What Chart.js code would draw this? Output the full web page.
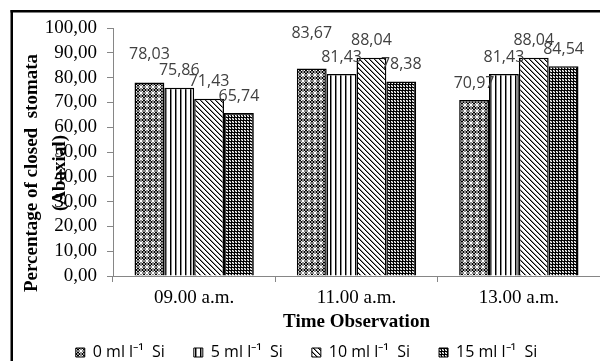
<!DOCTYPE html>
<html><head><meta charset="utf-8">
<script src="https://cdn.jsdelivr.net/npm/chart.js@4.4.1/dist/chart.umd.min.js"></script>
<style>html,body{margin:0;padding:0;background:#fff}#wrap{width:600px;height:361px;position:relative}</style>
</head><body><div id="wrap"><canvas id="c" width="600" height="361"></canvas></div>
<script>
const categories = ['09.00 a.m.', '11.00 a.m.', '13.00 a.m.'];
const seriesNames = ['0 ml l\u207B\u00B9  Si', '5 ml l\u207B\u00B9  Si', '10 ml l\u207B\u00B9  Si', '15 ml l\u207B\u00B9  Si'];
const si0 = [78.03, 83.67, 70.97];
const si5 = [75.86, 81.43, 81.43];
const si10 = [71.43, 88.04, 88.04];
const si15 = [65.74, 78.38, 84.54];
const yMin = 0, yMax = 100, yStep = 10;
const yTitleLines = ['Percentage of closed  stomata', '(Abaxial)'];
const xTitle = 'Time Observation';

function makePattern(rows) {
  const h = rows.length, w = rows[0].length;
  const c = document.createElement('canvas');
  c.width = w; c.height = h;
  const g = c.getContext('2d');
  for (let y = 0; y < h; y++) for (let x = 0; x < w; x++) {
    const ch = rows[y][x];
    g.fillStyle = ch === '#' ? '#000' : ch === 'g' ? '#8a8a8a' : '#fff';
    g.fillRect(x, y, 1, 1);
  }
  return c.getContext('2d').createPattern(c, 'repeat');
}
const pat0 = makePattern(['g#gg#g', '#.gg.#', 'gg..gg', 'gg..gg', '#.gg.#', 'g#gg#g']);
const pat1 = makePattern(['#g...']);
const pat2 = makePattern(['#g...', '.#g..', '..#g.', '...#g', 'g...#']);
const pat3 = makePattern(['###', '#.g', '#g.']);

const fmt = v => v.toFixed(2).replace('.', ',');

const frame = {
  id: 'frame',
  beforeDraw(chart) {
    const c = chart.ctx;
    c.save();
    c.fillStyle = '#fff'; c.fillRect(0, 0, chart.width, chart.height);
    c.fillStyle = '#000';
    c.fillRect(10.5, 10, 590, 2.5);
    c.fillRect(10.5, 10, 2.5, 351);
    c.restore();
  }
};

const valueLabels = {
  id: 'valueLabels',
  afterDatasetsDraw(chart, args, opts) {
    const c = chart.ctx;
    c.save();
    c.font = '16px "Open Sans", sans-serif';
    c.fillStyle = '#404040';
    c.textAlign = 'center';
    c.textBaseline = 'middle';
    chart.data.datasets.forEach((ds, di) => {
      const meta = chart.getDatasetMeta(di);
      meta.data.forEach((el, i) => {
        const extra = (opts.lift && opts.lift[di + '-' + i]) || 0;
        c.fillText(fmt(ds.data[i]), el.x, el.y - opts.offset - extra);
      });
    });
    c.restore();
  }
};

const yTitle = {
  id: 'yTitle',
  afterDraw(chart) {
    const c = chart.ctx, a = chart.chartArea;
    c.save();
    c.font = 'bold 19px "Liberation Serif", "Times New Roman", serif';
    c.fillStyle = '#000';
    c.textAlign = 'center';
    c.textBaseline = 'middle';
    const cy = (a.top + a.bottom) / 2 + 21;
    c.translate(32, cy); c.rotate(-Math.PI / 2);
    c.fillText(yTitleLines[0], 0, 0);
    c.fillText(yTitleLines[1], 0, 28);
    c.restore();
  }
};

const datasets = [si0, si5, si10, si15].map((d, i) => ({
  label: seriesNames[i],
  data: d,
  backgroundColor: [pat0, pat1, pat2, pat3][i],
  borderColor: '#000',
  borderWidth: 1.5,
  borderSkipped: 'bottom',
  categoryPercentage: 0.735,
  barPercentage: 1.0
}));

new Chart(document.getElementById('c'), {
  type: 'bar',
  data: {labels: categories, datasets},
  plugins: [frame, valueLabels, yTitle],
  options: {
    responsive: false,
    animation: false,
    devicePixelRatio: 1,
    layout: {padding: {left: 13, top: 28, right: 0, bottom: -9.5}},
    plugins: {
      tooltip: {enabled: false},
      valueLabels: {offset: 17, lift: {'0-0': 11, '0-1': 18}},
      legend: {
        position: 'bottom',
        labels: {
          font: {family: '"Open Sans", sans-serif', size: 16},
          color: '#000',
          boxWidth: 9, boxHeight: 9, padding: 29,
          generateLabels(chart) {
            return chart.data.datasets.map((ds, i) => ({
              text: ds.label, fillStyle: ds.backgroundColor, strokeStyle: '#000',
              lineWidth: 1, datasetIndex: i, hidden: false
            }));
          }
        }
      }
    },
    scales: {
      x: {
        grid: {display: true, drawOnChartArea: false, tickLength: 6, color: '#868686', offset: true},
        border: {color: '#868686', width: 1},
        ticks: {font: {family: '"Liberation Serif", serif', size: 19}, color: '#000', padding: 5},
        title: {display: true, text: xTitle, color: '#000',
          font: {family: '"Liberation Serif", serif', size: 19, weight: 'bold'},
          padding: {top: 0, bottom: -18}},
        afterFit(s) { s.height = 39.5; }
      },
      y: {
        min: yMin, max: yMax,
        grid: {display: true, drawOnChartArea: false, tickLength: 6, color: '#868686'},
        border: {color: '#868686', width: 1},
        ticks: {stepSize: yStep, autoSkip: false, callback: v => fmt(v), color: '#000', padding: 10,
          font: {family: '"Liberation Serif", serif', size: 19}},
        afterFit(s) { s.width = 100; }
      }
    }
  }
});
</script></body></html>
